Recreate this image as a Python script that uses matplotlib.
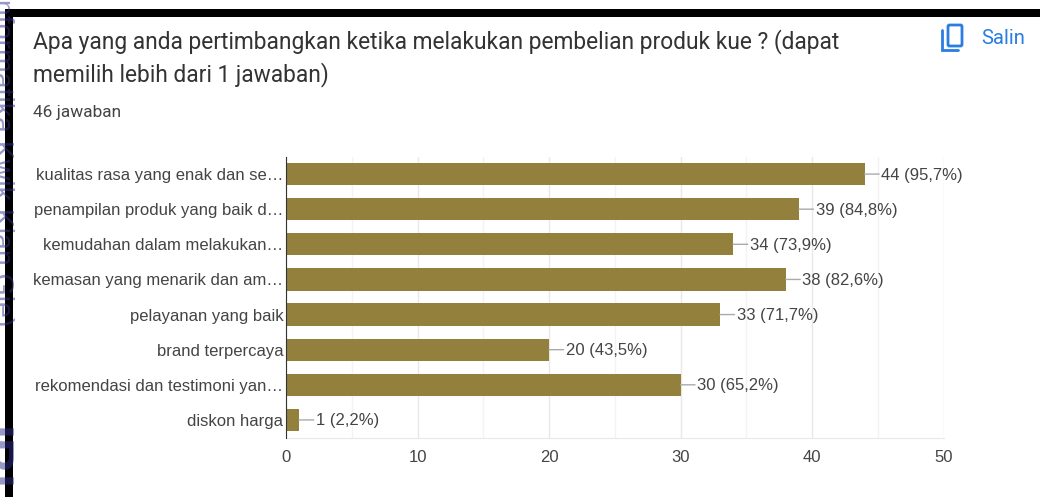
import matplotlib
matplotlib.use("Agg")
import matplotlib.pyplot as plt
from matplotlib.patches import Rectangle, FancyBboxPatch, PathPatch
from matplotlib.path import Path

# ----------------------------------------------------
# Data
# ----------------------------------------------------
title_lines = ["Apa yang anda pertimbangkan ketika melakukan pembelian produk kue ? (dapat",
               "memilih lebih dari 1 jawaban)"]
answers_label = "46 jawaban"
copy_label = "Salin"
categories = ["kualitas rasa yang enak dan se…", "penampilan produk yang baik d…",
              "kemudahan dalam melakukan…", "kemasan yang menarik dan am…",
              "pelayanan yang baik", "brand terpercaya",
              "rekomendasi dan testimoni yan…", "diskon harga"]
counts = [44, 39, 34, 38, 33, 20, 30, 1]
percents = ["95,7%", "84,8%", "73,9%", "82,6%", "71,7%", "43,5%", "65,2%", "2,2%"]
major_ticks = [0, 10, 20, 30, 40, 50]
minor_ticks = [5, 15, 25, 35, 45]
watermark = "Informatika Kwik Kian Gie)"
watermark_low = "IBI"

W, H = 1040, 497
BAR = "#93803d"
TXT = "#444444"
plt.rcParams["font.family"] = ["Liberation Sans", "DejaVu Sans"]

fig = plt.figure(figsize=(W / 100, H / 100), dpi=100, facecolor="white")

# pixel overlay for the page furniture
bg = fig.add_axes([0, 0, 1, 1])
bg.set_xlim(0, W)
bg.set_ylim(H, 0)
bg.axis("off")
bg.add_patch(Rectangle((5, 9), W - 5, 8, color="black", lw=0))
bg.add_patch(Rectangle((5, 9), 8, H - 9, color="black", lw=0))

bg.text(33, 42, title_lines[0], fontsize=16.4, family="Roboto", color="#333333", va="center")
bg.text(33, 75, title_lines[1], fontsize=16.4, family="Roboto", color="#333333", va="center")
bg.text(33, 112.5, answers_label, fontsize=12.4, family="Roboto", color="#444444", va="center")
bg.text(981, 38.5, copy_label, fontsize=14.6, family="Roboto", color="#2a7de1", va="center")

# copy icon
bg.add_patch(FancyBboxPatch((948, 25), 14, 21, boxstyle="round,pad=0,rounding_size=1.5",
                            fc="none", ec="#2a7de1", lw=2))
bg.add_patch(PathPatch(Path([(942, 30), (942, 50), (958, 50)]), fc="none", ec="#2a7de1",
                       lw=2, capstyle="round"))

# watermark sits over the black frame
bg.text(-6, -9, watermark, rotation=270, rotation_mode="anchor", color="#303090", alpha=0.5,
        fontsize=20.5, va="baseline", ha="left", zorder=6)
bg.text(-25, 427, watermark_low, rotation=270, rotation_mode="anchor", color="#303090", alpha=0.5,
        fontsize=36, fontweight="bold", va="baseline", ha="left", zorder=6)

# chart
ax = fig.add_axes([286 / W, 1 - 437.5 / H, (943.5 - 286) / W, (437.5 - 156.5) / H])
ax.patch.set_alpha(0)
y_pos = list(range(len(categories)))
ax.barh(y_pos, counts, height=0.63, color=BAR, zorder=3)
ax.set_xlim(0, 50)
ax.set_ylim(len(categories) - 0.5, -0.5)

for i, (c, p) in enumerate(zip(counts, percents)):
    ax.annotate("", xy=(c, i), xytext=(10.5, 0), textcoords="offset points",
                arrowprops=dict(arrowstyle="-", color="#aaaaaa", lw=1, shrinkA=0, shrinkB=0))
    ax.annotate(f"{c} ({p})", xy=(c, i), xytext=(12, -0.7), textcoords="offset points",
                va="center", ha="left", fontsize=12, color=TXT, zorder=4)

ax.set_yticks(y_pos, categories)
ax.set_xticks(major_ticks)
ax.set_xticks(minor_ticks, minor=True)
ax.grid(True, axis="x", which="major", color="#e8e8e8", lw=1, zorder=0)
ax.grid(True, axis="x", which="minor", color="#f3f3f3", lw=1, zorder=0)
ax.tick_params(axis="both", which="both", length=0)
ax.tick_params(axis="y", pad=2, labelsize=11.95, labelcolor=TXT)
ax.tick_params(axis="x", pad=9, labelsize=12, labelcolor=TXT)
for side in ["top", "right"]:
    ax.spines[side].set_visible(False)
ax.spines["bottom"].set_color("#e8e8e8")
ax.spines["left"].set_color("#333333")
ax.spines["left"].set_zorder(5)

fig.savefig("out.png", dpi=100)
